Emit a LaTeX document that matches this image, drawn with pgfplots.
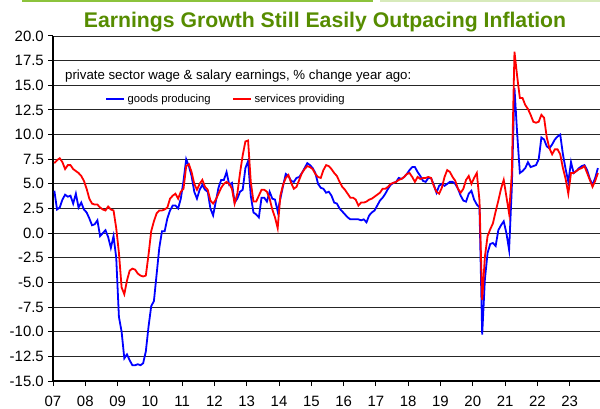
\documentclass[border=0pt]{standalone}
\usepackage{fontspec}
\setmainfont{Liberation Sans}
\usepackage{pgfplots}
\usepackage{pgfplotstable}
\pgfplotsset{compat=1.18}
\definecolor{titlegreen}{RGB}{86,140,0}
\definecolor{decog}{RGB}{140,195,60}
\definecolor{pblue}{RGB}{0,0,255}
\definecolor{pred}{RGB}{255,0,0}

\pgfplotstableread{
t goods services
0 4.3 7.1
1 2.4 7.4
2 2.6 7.6
3 3.4 7.2
4 3.9 6.5
5 3.7 6.9
6 3.8 6.9
7 3.0 6.5
8 4.0 6.3
9 2.6 6.1
10 3.1 5.8
11 2.4 5.3
12 2.1 4.5
13 1.5 3.5
14 0.8 3.0
15 0.9 2.9
16 1.3 2.9
17 -0.3 2.6
18 0.0 2.4
19 0.3 2.3
20 -0.4 2.7
21 -1.5 2.4
22 -0.3 2.3
23 -2.5 0.5
24 -8.5 -2.0
25 -10.0 -5.5
26 -12.7 -6.2
27 -12.3 -4.8
28 -12.9 -3.8
29 -13.4 -3.6
30 -13.4 -3.7
31 -13.3 -4.1
32 -13.4 -4.3
33 -13.2 -4.4
34 -12.0 -4.3
35 -9.5 -2.2
36 -7.4 0.2
37 -6.9 1.2
38 -4.2 2.0
39 -1.5 2.3
40 0.2 2.3
41 0.2 2.4
42 1.5 2.6
43 2.3 3.5
44 2.8 3.8
45 2.8 4.0
46 2.5 3.5
47 3.5 4.2
48 5.3 4.5
49 7.5 6.8
50 6.8 7.0
51 5.8 6.2
52 4.2 5.0
53 3.5 4.4
54 4.4 5.0
55 4.9 5.4
56 4.4 4.7
57 4.2 4.4
58 2.5 3.3
59 1.8 3.0
60 3.2 3.4
61 4.6 4.0
62 5.4 4.6
63 5.4 5.0
64 6.2 5.2
65 4.9 5.0
66 5.1 4.5
67 3.1 3.0
68 3.5 4.0
69 4.2 6.1
70 4.4 7.9
71 6.6 9.3
72 7.3 9.4
73 3.8 5.2
74 2.1 3.2
75 1.9 3.2
76 1.6 3.8
77 3.6 4.4
78 3.6 4.4
79 3.2 4.2
80 4.2 3.5
81 3.5 2.4
82 3.4 1.6
83 2.2 0.5
84 3.5 3.8
85 4.8 4.9
86 6.0 5.6
87 5.8 5.9
88 5.3 5.1
89 5.2 4.5
90 5.6 4.7
91 5.7 5.4
92 6.1 6.1
93 6.6 6.5
94 7.1 6.8
95 6.9 6.7
96 6.6 6.5
97 6.1 6.0
98 5.0 5.7
99 4.6 5.6
100 4.5 6.4
101 4.1 6.9
102 4.2 6.8
103 3.8 6.5
104 3.1 6.1
105 3.0 5.8
106 2.5 5.2
107 2.2 4.7
108 1.9 4.4
109 1.6 4.0
110 1.4 3.6
111 1.4 3.6
112 1.4 3.4
113 1.4 2.8
114 1.3 3.1
115 1.4 3.1
116 1.1 3.2
117 1.8 3.4
118 2.1 3.5
119 2.3 3.7
120 2.8 3.9
121 3.3 4.1
122 3.6 4.5
123 4.0 4.5
124 4.5 4.7
125 4.9 5.0
126 5.1 5.1
127 5.2 5.2
128 5.6 5.4
129 5.5 5.5
130 5.7 5.7
131 6.0 6.0
132 6.4 6.1
133 6.7 5.7
134 6.7 5.2
135 6.2 5.7
136 5.8 5.5
137 5.3 5.6
138 5.2 5.6
139 5.6 5.7
140 5.6 5.6
141 4.9 4.8
142 4.1 4.2
143 4.8 4.0
144 5.0 4.6
145 4.8 5.7
146 5.0 6.4
147 5.2 6.2
148 5.2 5.7
149 5.0 5.3
150 4.5 4.5
151 3.8 4.1
152 3.3 4.5
153 3.2 5.4
154 4.0 5.8
155 4.3 5.0
156 3.4 5.6
157 2.9 6.1
158 2.6 3.3
159 -10.3 -6.8
160 -4.7 -2.4
161 -2.0 -0.3
162 -1.1 0.4
163 -1.0 1.0
164 -1.3 2.2
165 0.3 3.3
166 0.8 4.5
167 1.2 5.4
168 0.0 3.7
169 -1.7 2.0
170 4.5 6.0
171 14.7 18.4
172 10.1 15.9
173 6.1 13.7
174 6.3 13.7
175 6.6 13.0
176 7.2 12.6
177 6.7 12.0
178 6.8 11.3
179 6.9 11.2
180 7.5 11.3
181 9.7 12.0
182 9.5 11.7
183 8.8 9.7
184 8.6 8.6
185 9.0 8.0
186 9.5 8.5
187 9.8 8.5
188 10.0 8.0
189 8.0 6.6
190 6.5 5.5
191 5.2 4.0
192 7.2 6.1
193 6.1 6.1
194 6.3 6.3
195 6.6 6.5
196 6.8 6.6
197 6.9 6.8
198 6.4 6.1
199 5.5 5.4
200 4.9 4.7
201 5.6 5.3
202 6.6 6.1
}\earnings

\begin{document}
\begin{tikzpicture}
\useasboundingbox (0bp,0bp) rectangle (600bp,409bp);
\fill[decog] (22bp,406.5bp) rectangle (373bp,409bp);
\fill[decog!35] (380bp,407bp) rectangle (600bp,409bp);
\node[anchor=base, inner sep=0pt, text=titlegreen, font=\bfseries\fontsize{21.3}{24}\selectfont] at (325bp,381bp) {Earnings Growth Still Easily Outpacing Inflation};
\begin{axis}[
  at={(53bp,28bp)}, anchor=south west,
  scale only axis, width=547bp, height=345bp,
  xmin=2007, xmax=2023.94, ymin=-15, ymax=20,
  axis x line*=bottom, axis y line*=left,
  axis line style={black, line width=1.2bp, -},
  xtick={2007,2008,2009,2010,2011,2012,2013,2014,2015,2016,2017,2018,2019,2020,2021,2022,2023},
  xticklabels={07,08,09,10,11,12,13,14,15,16,17,18,19,20,21,22,23},
  ytick={-15,-12.5,-10,-7.5,-5,-2.5,0,2.5,5,7.5,10,12.5,15,17.5,20},
  yticklabels={-15.0,-12.5,-10.0,-7.5,-5.0,-2.5,0.0,2.5,5.0,7.5,10.0,12.5,15.0,17.5,20.0},
  tick align=outside, major tick length=5bp,
  tick style={black, line width=1bp},
  ymajorgrids, grid style={black!85, line width=0.9bp},
  tick label style={font=\fontsize{15}{17}\selectfont, black},
  xticklabel style={yshift=-7bp},
  yticklabel style={inner xsep=0pt, xshift=-4bp},
  clip=true,
  legend image code/.code={\draw[#1] (0bp,0bp) -- (18bp,0bp);},
  legend style={draw=none, fill=none, inner sep=0pt, at={(0.0951,0.8174)}, anchor=west,
    font=\fontsize{11.3}{13}\selectfont, legend columns=2,
    /tikz/every even column/.append style={column sep=19bp},
    nodes={inner xsep=2.5bp, inner ysep=0pt}},
]
\addplot[pblue, line width=1.8bp, no markers] table[x expr={2007+(\thisrow{t}+0.5)/12}, y=goods] {\earnings};
\addlegendentry{goods producing}
\addplot[pred, line width=1.8bp, no markers] table[x expr={2007+(\thisrow{t}+0.5)/12}, y=services] {\earnings};
\addlegendentry{services providing}
\node[anchor=west, inner sep=0pt, font=\fontsize{13.3}{15}\selectfont] at (rel axis cs:0.0219,0.884) {private sector wage \& salary earnings, \% change year ago:};
\end{axis}
\end{tikzpicture}
\end{document}
